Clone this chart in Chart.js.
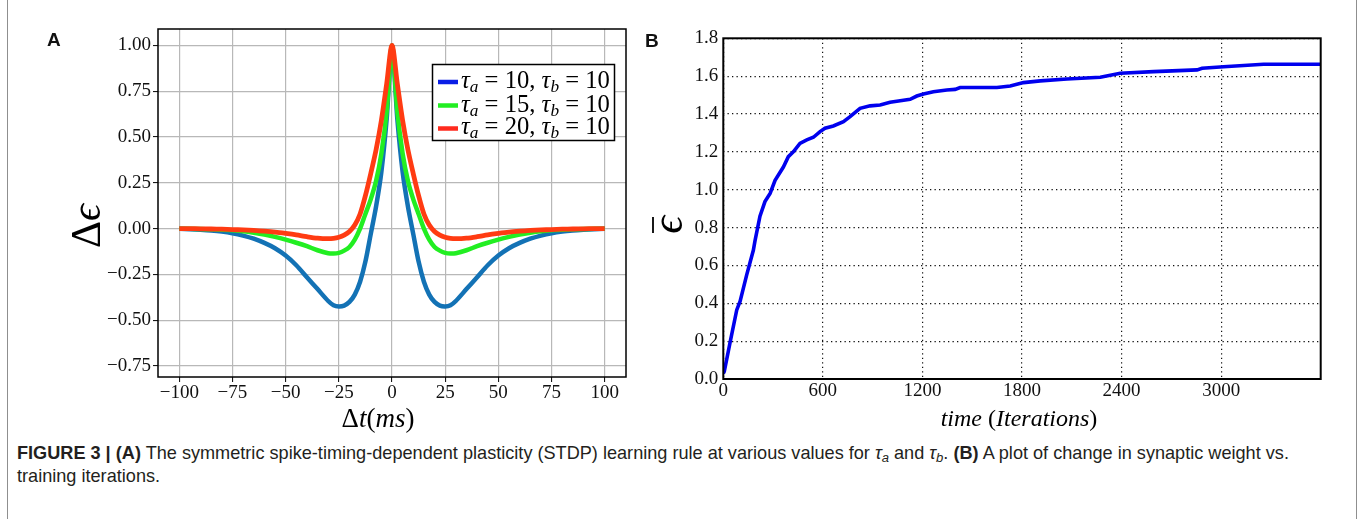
<!DOCTYPE html>
<html><head><meta charset="utf-8">
<script src="https://cdn.jsdelivr.net/npm/chart.js@4.4.1/dist/chart.umd.min.js"></script>
<style>
html,body{margin:0;padding:0;background:#fff;width:1363px;height:519px;overflow:hidden;position:relative;}
#frame{position:absolute;left:7px;top:-10px;width:1350px;height:545px;border:1.5px solid #8f8f8f;box-sizing:border-box;}
canvas{position:absolute;top:0;}
#cA{left:0;} #cB{left:630px;}
.lbl{position:absolute;font-family:'Liberation Sans',Arial,sans-serif;font-weight:bold;font-size:19px;line-height:1;color:#111;}
#caption{position:absolute;left:17px;top:442px;font-family:'Liberation Sans',Arial,sans-serif;font-size:15px;line-height:23px;color:#231f20;white-space:nowrap;}
#caption sub{font-size:0.72em;vertical-align:-0.25em;line-height:0;}
</style></head>
<body>
<div id="frame"></div>
<canvas id="cA" width="630" height="440"></canvas>
<canvas id="cB" width="733" height="440"></canvas>
<div class="lbl" style="left:47px;top:29.5px;">A</div>
<div class="lbl" style="left:645px;top:30.5px;">B</div>
<div id="caption"><span id="cap1"><b>FIGURE 3 |</b> <b>(A)</b> The symmetric spike-timing-dependent plasticity (STDP) learning rule at various values for <i>τ<sub>a</sub></i> and <i>τ<sub>b</sub></i>. <b>(B)</b> A plot of change in synaptic weight vs.</span><br>training iterations.</div>
<script>
// ---------- Panel A data ----------
const dtValues = [-100,-95,-90,-85,-80,-75,-70,-65,-60,-55,-50,-45,-40,-35,-30,-27.5,-25,-22.5,-20,-17.5,-15,-12.5,-10,-7.5,-5,-2.5,0,
  2.5,5,7.5,10,12.5,15,17.5,20,22.5,25,27.5,30,35,40,45,50,55,60,65,70,75,80,85,90,95,100];
const blueA = [-0.001,-0.003,-0.006,-0.01,-0.016,-0.025,-0.038,-0.055,-0.078,-0.107,-0.147,-0.2,-0.265,-0.33,-0.395,-0.418,-0.425,-0.42,-0.40,-0.36,-0.29,-0.18,-0.03,0.12,0.31,0.60,1.0,
  0.60,0.31,0.12,-0.03,-0.18,-0.29,-0.36,-0.40,-0.42,-0.425,-0.418,-0.395,-0.33,-0.265,-0.2,-0.147,-0.107,-0.078,-0.055,-0.038,-0.025,-0.016,-0.01,-0.006,-0.003,-0.001];
const greenA = [0,-0.001,-0.002,-0.004,-0.006,-0.009,-0.014,-0.022,-0.032,-0.045,-0.06,-0.077,-0.096,-0.118,-0.134,-0.136,-0.132,-0.12,-0.10,-0.06,0.0,0.08,0.16,0.26,0.41,0.64,1.0,
  0.64,0.41,0.26,0.16,0.08,0.0,-0.06,-0.10,-0.12,-0.132,-0.136,-0.134,-0.118,-0.096,-0.077,-0.06,-0.045,-0.032,-0.022,-0.014,-0.009,-0.006,-0.004,-0.002,-0.001,0];
const redA = [0,0,-0.001,-0.002,-0.003,-0.005,-0.007,-0.01,-0.014,-0.019,-0.026,-0.034,-0.044,-0.052,-0.055,-0.053,-0.047,-0.035,-0.015,0.02,0.08,0.18,0.30,0.43,0.59,0.79,1.0,
  0.79,0.59,0.43,0.30,0.18,0.08,0.02,-0.015,-0.035,-0.047,-0.053,-0.055,-0.052,-0.044,-0.034,-0.026,-0.019,-0.014,-0.01,-0.007,-0.005,-0.003,-0.002,-0.001,0,0];
const tauA = ['10','15','20'];
const tauB = ['10','10','10'];
const xTicksA = [-100,-75,-50,-25,0,25,50,75,100];
const yTicksA = [-0.75,-0.5,-0.25,0,0.25,0.5,0.75,1.0];

// ---------- Panel B data ----------
const iterations = [0,6,40,81,101,141,181,191,221,251,282,312,332,362,392,422,462,503,543,583,613,663,724,764,824,885,945,1005,1066,1126,1166,1206,1266,1347,1397,1427,1548,1649,1729,1809,1910,2071,2272,2392,2593,2855,2885,3015,3256,3600];
const epsBar = [0.03,0.04,0.19,0.365,0.41,0.55,0.68,0.73,0.86,0.937,0.98,1.05,1.078,1.12,1.175,1.20,1.245,1.263,1.277,1.307,1.325,1.337,1.36,1.386,1.43,1.443,1.448,1.462,1.47,1.478,1.495,1.506,1.518,1.527,1.53,1.54,1.54,1.54,1.548,1.566,1.575,1.585,1.594,1.615,1.624,1.633,1.642,1.65,1.663,1.663];
const xTicksB = [0,600,1200,1800,2400,3000];
const yTicksB = [0,0.2,0.4,0.6,0.8,1.0,1.2,1.4,1.6,1.8];

const SERIF = "'Liberation Serif','DejaVu Serif',serif";
const lineColors = ['#1372b5','#22ee22','#ff3b12'];
const swatchColors = ['#0a1ee6','#22ee22','#ff2a1e'];
const B_OFF = 630;

function minus(s){ return s.replace('-', '\u2212'); }
function runsWidth(ctx, runs){ let w=0; for(const r of runs){ ctx.font=r.font; w+=ctx.measureText(r.t).width; } return w; }
function drawRuns(ctx, runs, x, y, align){
  const w = runsWidth(ctx, runs);
  let cx = align==='center' ? x - w/2 : x;
  for(const r of runs){ ctx.font=r.font; ctx.fillText(r.t, cx, y + (r.dy||0)); cx += ctx.measureText(r.t).width; }
  return w;
}
const it = s => `italic ${s}px ${SERIF}`;
const rm = s => `${s}px ${SERIF}`;
function legendRuns(i, s){
  return [{t:'τ',font:it(s)},{t:'a',font:it(s*0.7),dy:s*0.18},{t:' = '+tauA[i]+', ',font:rm(s)},{t:'τ',font:it(s)},{t:'b',font:it(s*0.7),dy:s*0.18},{t:' = '+tauB[i],font:rm(s)}];
}

const plugA = {
  id:'plugA',
  afterDraw(chart){
    const ctx = chart.ctx, a = chart.chartArea;
    ctx.save();
    ctx.strokeStyle='#000'; ctx.lineWidth=1.5;
    ctx.strokeRect(a.left, a.top, a.right-a.left, a.bottom-a.top);
    // legend
    ctx.fillStyle='#fff'; ctx.fillRect(432.5,64.5,182,76);
    ctx.strokeRect(432.5,64.5,182,76);
    ctx.fillStyle='#000'; ctx.textBaseline='alphabetic';
    const w23 = runsWidth(ctx, legendRuns(0,23));
    const fs = 23*149/w23;
    const swY=[82,105.5,128.5], baseY=[88,111.5,134];
    for(let i=0;i<3;i++){
      ctx.strokeStyle=swatchColors[i]; ctx.lineWidth=4.5;
      ctx.beginPath(); ctx.moveTo(438,swY[i]); ctx.lineTo(458,swY[i]); ctx.stroke();
      drawRuns(ctx, legendRuns(i,fs), 461, baseY[i], 'left');
    }
    // x title
    drawRuns(ctx,[{t:'Δ',font:rm(27)},{t:'t',font:it(27)},{t:'(',font:rm(27)},{t:'ms',font:it(27)},{t:')',font:rm(27)}], 378, 427, 'center');
    // y title (rotated)
    ctx.save(); ctx.translate(100,226); ctx.rotate(-Math.PI/2);
    drawRuns(ctx,[{t:'Δ',font:rm(42)},{t:'ϵ',font:it(42)}],0,0,'center');
    ctx.restore();
    ctx.restore();
  }
};

const plugB = {
  id:'plugB',
  afterDraw(chart){
    const ctx = chart.ctx, a = chart.chartArea;
    ctx.save();
    ctx.strokeStyle='#000'; ctx.lineWidth=2;
    ctx.strokeRect(a.left, a.top, a.right-a.left, a.bottom-a.top);
    ctx.fillStyle='#000'; ctx.textBaseline='alphabetic';
    drawRuns(ctx,[{t:'time',font:it(24)},{t:' (',font:rm(24)},{t:'Iterations',font:it(24)},{t:')',font:rm(24)}], 1019-B_OFF, 426, 'center');
    // y title: epsilon with overbar, rotated
    ctx.save(); ctx.translate(682-B_OFF,225); ctx.rotate(-Math.PI/2);
    drawRuns(ctx,[{t:'ϵ',font:it(44)}],0,0,'center');
    ctx.lineWidth=1.8; ctx.strokeStyle='#000';
    ctx.beginPath(); ctx.moveTo(-8,-29); ctx.lineTo(8,-29); ctx.stroke();
    ctx.restore();
    ctx.restore();
  }
};

new Chart(document.getElementById('cA'), {
  type:'line',
  data:{ datasets:[
    {label:'τa = 10, τb = 10', data: dtValues.map((x,i)=>({x, y: blueA[i]})), borderColor:lineColors[0], borderWidth:4.5, pointRadius:0, tension:0.3, fill:false, order:2},
    {label:'τa = 15, τb = 10', data: dtValues.map((x,i)=>({x, y: greenA[i]})), borderColor:lineColors[1], borderWidth:4.5, pointRadius:0, tension:0.3, fill:false, order:1},
    {label:'τa = 20, τb = 10', data: dtValues.map((x,i)=>({x, y: redA[i]})), borderColor:lineColors[2], borderWidth:4.8, pointRadius:0, tension:0.3, fill:false, order:0}
  ]},
  options:{
    responsive:false, animation:false, devicePixelRatio:1,
    layout:{padding:{left:0,top:29,right:4,bottom:33}},
    plugins:{legend:{display:false}, tooltip:{enabled:false}},
    scales:{
      x:{type:'linear', min:-110, max:110,
        afterBuildTicks: s=>{ s.ticks = xTicksA.map(v=>({value:v})); },
        afterFit: s=>{ s.height = 30; },
        grid:{color:'#b8b8b8', lineWidth:1.2, tickLength:5, tickColor:'#000', tickWidth:1},
        border:{display:false},
        ticks:{color:'#111', font:{family:SERIF,size:19}, padding:0, maxRotation:0, autoSkip:false, callback:v=>minus(String(v))}
      },
      y:{type:'linear', min:-0.81, max:1.09,
        afterBuildTicks: s=>{ s.ticks = yTicksA.map(v=>({value:v})); },
        afterFit: s=>{ s.width = 158; },
        grid:{color:'#b8b8b8', lineWidth:1.2, tickLength:5, tickColor:'#000', tickWidth:1},
        border:{display:false},
        ticks:{color:'#111', font:{family:SERIF,size:19}, padding:2, autoSkip:false, callback:v=>minus(Number(v).toFixed(2))}
      }
    }
  },
  plugins:[plugA]
});

new Chart(document.getElementById('cB'), {
  type:'line',
  data:{ datasets:[
    {label:'epsilon', data: iterations.map((x,i)=>({x, y: epsBar[i]})), borderColor:'#0000ee', borderWidth:3.6, pointRadius:0, tension:0, fill:false}
  ]},
  options:{
    responsive:false, animation:false, devicePixelRatio:1,
    layout:{padding:{left:0,top:38.3,right:42.3,bottom:31}},
    plugins:{legend:{display:false}, tooltip:{enabled:false}},
    scales:{
      x:{type:'linear', min:0, max:3600,
        afterBuildTicks: s=>{ s.ticks = xTicksB.map(v=>({value:v})); },
        afterFit: s=>{ s.height = 30; },
        grid:{color:'#111', lineWidth:1.2, drawTicks:false},
        border:{display:false, dash:[1.3,3.2]},
        ticks:{color:'#111', font:{family:SERIF,size:19}, padding:1, maxRotation:0, autoSkip:false, callback:v=>String(v)}
      },
      y:{type:'linear', min:0, max:1.8,
        afterBuildTicks: s=>{ s.ticks = yTicksB.map(v=>({value:v})); },
        afterFit: s=>{ s.width = 723.3-B_OFF; },
        grid:{color:'#111', lineWidth:1.2, drawTicks:false},
        border:{display:false, dash:[1.3,3.2]},
        ticks:{color:'#111', font:{family:SERIF,size:19}, padding:5, autoSkip:false, callback:v=>Number(v).toFixed(1)}
      }
    }
  },
  plugins:[plugB]
});

// fit caption first line width to the reference
(function(){
  const s = document.getElementById('cap1');
  const w = s.getBoundingClientRect().width;
  const target = 1273;
  const cap = document.getElementById('caption');
  cap.style.fontSize = (15*target/w).toFixed(2)+'px';
})();
</script>
</body></html>
